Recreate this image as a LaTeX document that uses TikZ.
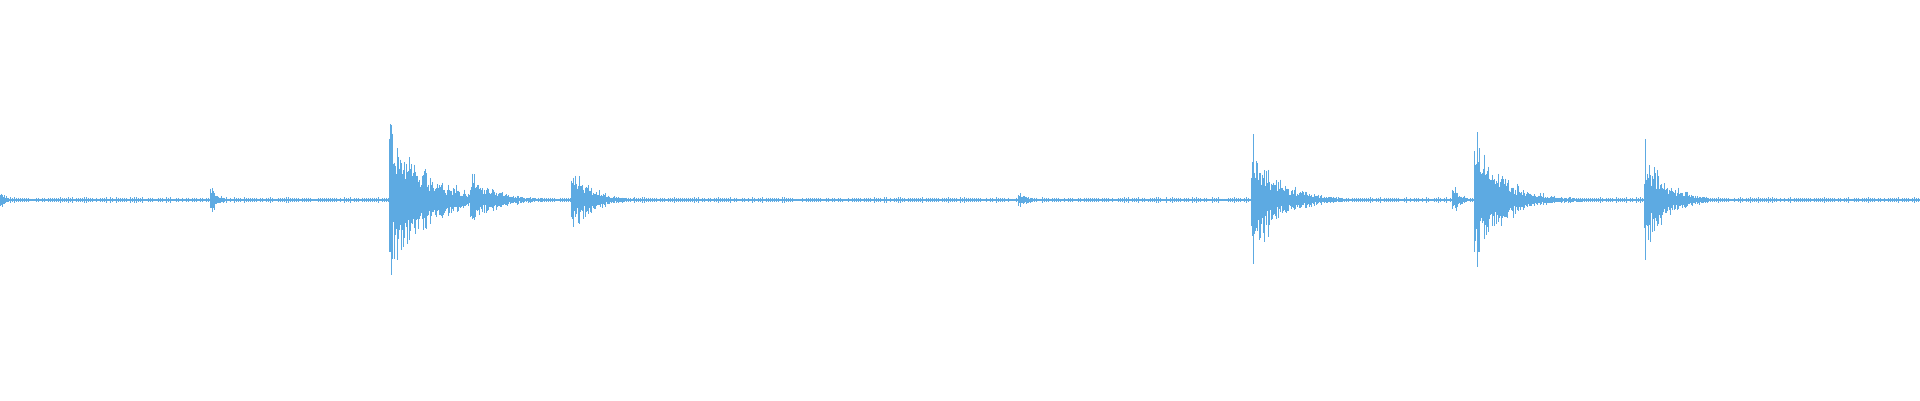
\documentclass[tikz,border=0pt]{standalone}
\definecolor{wave}{RGB}{93,170,226}
\newcommand{\burst}[4]{% x0, amp, tau, length
  \foreach \i in {0,...,#4}{%
    \pgfmathsetmacro{\a}{#2*exp(-\i/#3)*(0.45+0.55*rnd)}%
    \pgfmathsetmacro{\u}{\a*(0.5+0.5*rnd)}%
    \pgfmathsetmacro{\d}{\a*(0.5+0.5*rnd)}%
    \draw[wave,line width=0.9pt] (#1+\i,200+\u) -- (#1+\i,200-\d);
  }}
\begin{document}
\begin{tikzpicture}[x=1pt,y=1pt]
\pgfmathsetseed{7}
\fill[white] (0,0) rectangle (1920,400);
\useasboundingbox (0,0) rectangle (1920,400);
\draw[wave,line width=1.2pt] (0,200) -- (1920,200);
\foreach \x in {0,2,...,1920}{%
  \pgfmathsetmacro{\n}{1.2+1.5*rnd}%
  \draw[wave,line width=0.5pt] (\x,200+\n) -- (\x,200-\n);
}
\burst{0}{12}{6}{12}
\burst{210}{18}{8}{18}
\burst{389}{80}{40}{120}
\burst{422}{40}{14}{35}
\burst{470}{32}{26}{90}
\burst{571}{42}{20}{70}
\burst{1018}{11}{10}{30}
\burst{1251}{72}{28}{100}
\burst{1452}{20}{8}{18}
\burst{1474}{74}{30}{110}
\burst{1644}{66}{22}{100}
\draw[wave,line width=0.8pt] (391,275) -- (391,125);
\draw[wave,line width=0.8pt] (1253,266) -- (1253,136);
\draw[wave,line width=0.8pt] (1477,268) -- (1477,133);
\draw[wave,line width=0.8pt] (1645,261) -- (1645,140);
\end{tikzpicture}
\end{document}
